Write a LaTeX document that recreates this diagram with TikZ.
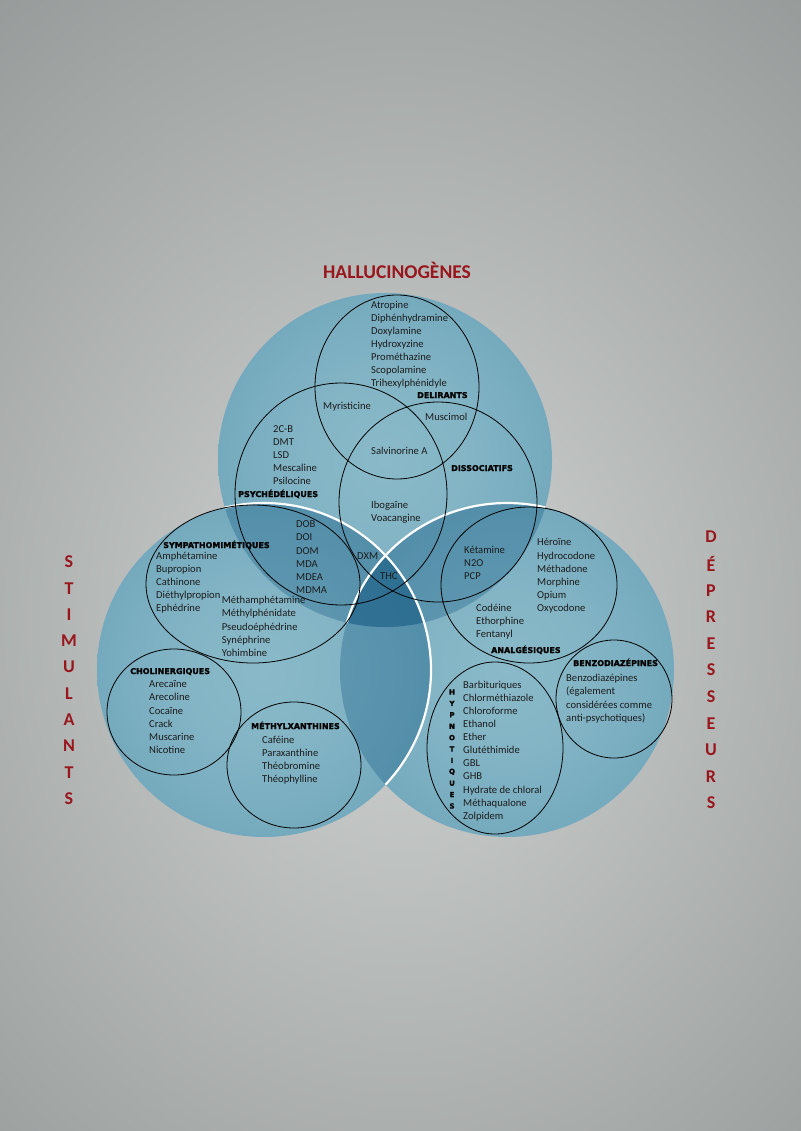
\documentclass[tikz,border=0pt]{standalone}
\usepackage{fontspec}
\setmainfont{Carlito}
\newfontfamily\headfont{DejaVu Sans}[BoldFeatures={FakeBold=1.6}]
\definecolor{titlered}{RGB}{152,22,28}
\definecolor{bigin}{RGB}{138,186,201}
\definecolor{bigout}{RGB}{90,150,175}
\definecolor{lens}{RGB}{15,85,128}
\definecolor{bgin}{RGB}{208,211,209}
\definecolor{bgout}{RGB}{118,123,123}
\definecolor{ink}{RGB}{28,28,28}
\pgfdeclareradialshading{softdisc}{\pgfpoint{0bp}{0bp}}{color(0bp)=(bigin); color(12bp)=(bigin!85!bigout); color(50bp)=(bigout)}
\pgfdeclareradialshading{softback}{\pgfpoint{0bp}{0bp}}{color(0bp)=(bgin); color(50bp)=(bgout)}
\begin{document}
\begin{tikzpicture}[x=1pt,y=-1pt,
  item/.style={anchor=base west,inner sep=0pt,text=ink,font=\fontsize{10.6}{13}\selectfont},
  head/.style={anchor=base west,inner sep=0pt,font=\headfont\bfseries\fontsize{8}{9}\selectfont},
  side/.style={inner sep=0pt,text=titlered,font=\bfseries\fontsize{18}{20}\selectfont},
  vert/.style={inner sep=0pt,font=\headfont\bfseries\fontsize{7}{8}\selectfont},
  ring/.style={draw=black,line width=0.8pt},
  big/.style={shading=softdisc},
  lap/.style={fill=lens,fill opacity=0.32},
  rim/.style={draw=white,line width=2.2pt}]

\useasboundingbox (0,0) rectangle (800,1131);
\shade[shading=softback] (-120,0) rectangle (920,1240);

\coordinate (hal) at (385,460);
\coordinate (sti) at (264,670);
\coordinate (dep) at (507,670);

% les trois grands cercles
\shade[big] (hal) circle (167);
\shade[big] (dep) circle (167);
\shade[big] (sti) circle (167);
\begin{scope}
  \clip (hal) circle (167);
  \fill[lap] (sti) circle (167);
  \fill[lap] (dep) circle (167);
\end{scope}
\begin{scope}
  \clip (sti) circle (167);
  \fill[lap] (dep) circle (167);
\end{scope}
\begin{scope}
  \clip (hal) circle (167);
  \draw[rim] (dep) circle (167);
\end{scope}
\begin{scope}
  \clip (hal) circle (167) (dep) circle (167);
  \draw[rim] (sti) circle (167);
\end{scope}

% sous-familles
\draw[ring] (397,387) ellipse (82 and 92);
\draw[ring] (341,494) ellipse (106 and 111);
\draw[ring] (438,502) ellipse (99 and 100);
\draw[ring] (253,584) ellipse (107 and 79);
\draw[ring] (529,585) ellipse (88 and 78);
\draw[ring] (174,712) ellipse (67 and 63);
\draw[ring] (294,765) ellipse (67 and 63);
\draw[ring] (495,748) ellipse (68 and 86);
\draw[ring] (614,699) ellipse (58 and 59);

\node[side,font=\bfseries\fontsize{19.5}{21}\selectfont] (titre) at (397,270) {HALLUCINOGÈNES};
\foreach \l [count=\i from 0] in {S,T,I,M,U,L,A,N,T,S}
  \node[side] (stim\i) at (69,{562+26.3*\i}) {\l};
\foreach \l [count=\i from 0] in {D,É,P,R,E,S,S,E,U,R,S}
  \node[side] (depr\i) at (711,{537+26.6*\i}) {\l};
\foreach \l [count=\i from 0] in {H,Y,P,N,O,T,I,Q,U,E,S}
  \node[vert] (hypl\i) at (452,{692+11.4*\i}) {\l};

\node[head] (hdel) at (417,398) {DELIRANTS};
\node[head] (hpsy) at (238,497) {PSYCHÉDÉLIQUES};
\node[head] (hdis) at (451,471) {DISSOCIATIFS};
\node[head] (hsym) at (163,548) {SYMPATHOMIMÉTIQUES};
\node[head] (hana) at (491,653) {ANALGÉSIQUES};
\node[head] (hben) at (573,666) {BENZODIAZÉPINES};
\node[head] (hcho) at (130,674) {CHOLINERGIQUES};
\node[head] (hmet) at (251,729) {MÉTHYLXANTHINES};

\foreach \t [count=\i from 0] in {Atropine,Diphénhydramine,Doxylamine,Hydroxyzine,Prométhazine,Scopolamine,Trihexylphénidyle}
  \node[item] (del\i) at (371,{308.5+13*\i}) {\t};
\node[item] (myr) at (323,409.5) {Myristicine};
\node[item] (mus) at (425,420) {Muscimol};
\node[item] (sal) at (371,454) {Salvinorine A};
\foreach \t [count=\i from 0] in {2C-B,DMT,LSD,Mescaline,Psilocine}
  \node[item] (psy\i) at (273,{432.5+12.9*\i}) {\t};
\foreach \t [count=\i from 0] in {Ibogaïne,Voacangine}
  \node[item] (ibo\i) at (371,{508.5+12.5*\i}) {\t};
\foreach \t [count=\i from 0] in {DOB,DOI,DOM,MDA,MDEA,MDMA}
  \node[item] (dob\i) at (296,{527.8+13.1*\i}) {\t};
\node[item] (dxm) at (357,559) {DXM};
\node[item] (thc) at (380,579.5) {THC};
\foreach \t [count=\i from 0] in {Amphétamine,Bupropion,Cathinone,Diéthylpropion,Ephédrine}
  \node[item] (syma\i) at (156,{559+13.1*\i}) {\t};
\foreach \t [count=\i from 0] in {Méthamphétamine,Méthylphénidate,Pseudoéphédrine,Synéphrine,Yohimbine}
  \node[item] (symb\i) at (221.7,{603.5+13.3*\i}) {\t};
\foreach \t [count=\i from 0] in {Kétamine,N2O,PCP}
  \node[item] (ket\i) at (464,{553.5+13*\i}) {\t};
\foreach \t [count=\i from 0] in {Héroïne,Hydrocodone,Méthadone,Morphine,Opium,Oxycodone}
  \node[item] (her\i) at (537,{545.8+13.2*\i}) {\t};
\foreach \t [count=\i from 0] in {Codéine,Ethorphine,Fentanyl}
  \node[item] (cod\i) at (476,{611.8+13*\i}) {\t};
\foreach \t [count=\i from 0] in {Arecaïne,Arecoline,Cocaïne,Crack,Muscarine,Nicotine}
  \node[item] (cho\i) at (149,{687.8+13.1*\i}) {\t};
\foreach \t [count=\i from 0] in {Caféine,Paraxanthine,Théobromine,Théophylline}
  \node[item] (met\i) at (262,{743.5+13.1*\i}) {\t};
\foreach \t [count=\i from 0] in {Benzodiazépines,{(également},{considérées comme},{anti-psychotiques)}}
  \node[item] (ben\i) at (566,{681.2+13.5*\i}) {\t};
\foreach \t [count=\i from 0] in {Barbituriques,Chlorméthiazole,Chloroforme,Ethanol,Ether,Glutéthimide,GBL,GHB,Hydrate de chloral,Méthaqualone,Zolpidem}
  \node[item] (hyp\i) at (463,{688.5+13.07*\i}) {\t};
\end{tikzpicture}
\end{document}
